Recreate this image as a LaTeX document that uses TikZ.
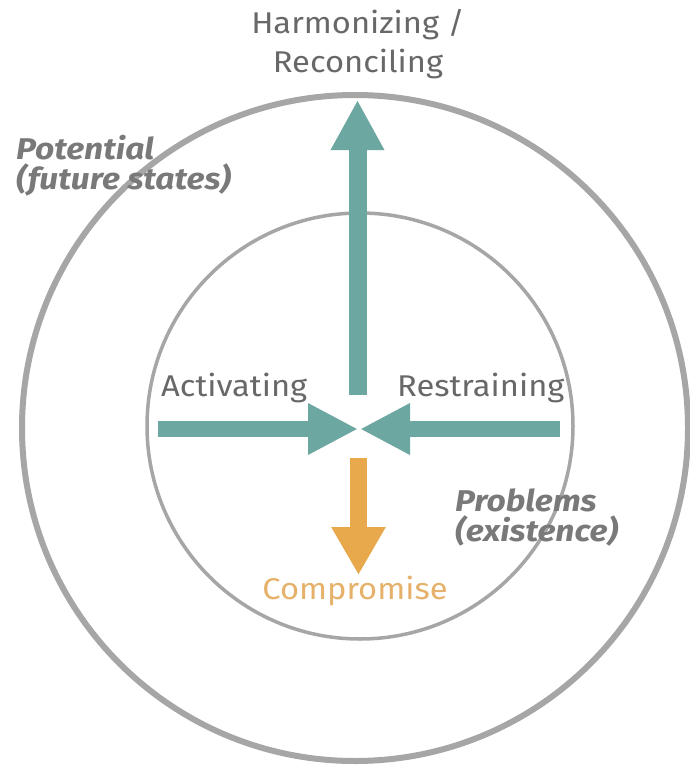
\documentclass[tikz,border=0pt]{standalone}
\usepackage{fontspec}
\setmainfont{Fira Sans}
\newfontfamily\plainfont[FakeStretch=1.09]{Fira Sans}
\newfontfamily\regionfont[FakeStretch=1.12]{Fira Sans}
\usetikzlibrary{arrows.meta}
\definecolor{ringgray}{HTML}{A6A6A6}
\definecolor{txtgray}{HTML}{686868}
\definecolor{labgray}{HTML}{797979}
\definecolor{tealc}{HTML}{6DA7A1}
\definecolor{orangec}{HTML}{E8A94C}
\definecolor{orangetxt}{HTML}{E6B16A}
\tikzset{
  ring/.style={draw=ringgray},
  plain/.style={text=txtgray, inner sep=0pt, font=\plainfont\fontsize{30}{39}\selectfont, align=center},
  region/.style={text=labgray, inner sep=0pt, font=\regionfont\fontsize{30}{30}\selectfont\bfseries\itshape, align=left},
  tealarrow/.style={draw=tealc, line width=#1, -{Triangle[length=50pt,width=50pt]}},
  orangearrow/.style={draw=orangec, line width=17pt, -{Triangle[length=48pt,width=51pt]}},
}
\begin{document}
\begin{tikzpicture}[x=1pt,y=-1pt]
\useasboundingbox (0,0) rectangle (689,771);
\fill[white] (0,0) rectangle (689,771);
% rings
\draw[ring, line width=6pt] (355,428) circle[radius=333];
\draw[ring, line width=3.5pt] (360,426) circle[radius=213];
% arrow endpoints
\coordinate (upS) at (357.5,395);
\coordinate (upT) at (357.5,100);
\coordinate (leftS) at (158,429);
\coordinate (leftT) at (358,429);
\coordinate (rightS) at (560,429);
\coordinate (rightT) at (360,429);
\coordinate (downS) at (358.5,458);
\coordinate (downT) at (358.5,575);
\draw[tealarrow=18pt] (upS) -- (upT);
\draw[tealarrow=16pt, -{Triangle[length=50pt,width=48pt]}] (leftS) -- (leftT);
\draw[tealarrow=16pt, -{Triangle[length=50pt,width=48pt]}] (rightS) -- (rightT);
\draw[orangearrow] (downS) -- (downT);
% labels (base anchor = baseline of the last line)
\node[plain, anchor=base] (harm) at (358,72) {Harmonizing /\\Reconciling};
\node[plain, anchor=base west] (act) at (161,396) {Activating};
\node[plain, anchor=base west] (res) at (397,396) {Restraining};
\node[plain, anchor=base, text=orangetxt] (comp) at (355,599) {Compromise};
\node[region, anchor=base west] (pot) at (16,189) {Potential\\(future states)};
\node[region, anchor=base west] (prob) at (455,541) {Problems\\(existence)};
\end{tikzpicture}
\end{document}
